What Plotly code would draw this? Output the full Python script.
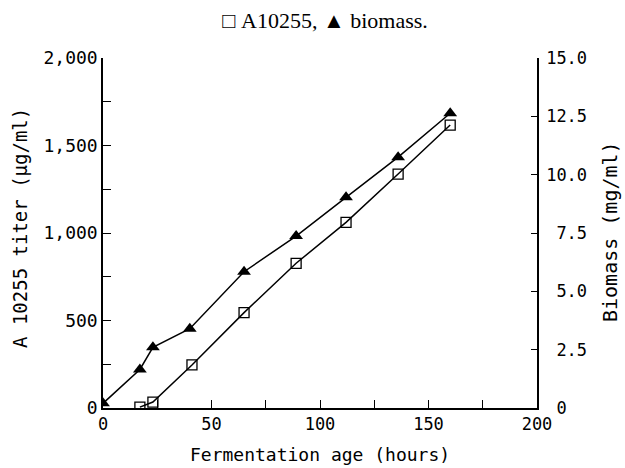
import plotly.graph_objects as go

# Data
hours_titer = [17, 23, 41, 65, 89, 112, 136, 160]
titer = [5, 34, 246, 545, 827, 1061, 1337, 1617]          # A10255 titer (µg/ml)

hours_biomass = [0, 17, 23, 40, 65, 89, 112, 136, 160]
biomass = [0.2, 1.65, 2.6, 3.4, 5.84, 7.37, 9.03, 10.75, 12.63]  # mg/ml

x_ticks = [0, 50, 100, 150, 200]
y1_ticks = [0, 500, 1000, 1500, 2000]
y1_text = ["0", "500", "1,000", "1,500", "2,000"]
y2_ticks = [0, 2.5, 5, 7.5, 10, 12.5, 15]
NB = "\u00a0"
y2_text = [NB + "0", NB + "2.5", NB + "5.0", NB + "7.5", "10.0", "12.5", "15.0"]

MONO = "DejaVu Sans Mono"
W, H = 625, 468
L, R, T, B = 103, 88, 58, 60
PW, PH = W - L - R, H - T - B


def px_x(x):
    return (x - L) / PW


def px_y(y):
    return (H - B - y) / PH


fig = go.Figure()
fig.add_trace(go.Scatter(
    x=hours_titer, y=titer, mode="lines+markers", name="A10255",
    line=dict(color="black", width=1.5),
    marker=dict(symbol="square-open", size=10, color="black", line=dict(width=1.3)),
    yaxis="y"))
fig.add_trace(go.Scatter(
    x=hours_biomass, y=biomass, mode="lines+markers", name="biomass",
    line=dict(color="black", width=1.5),
    marker=dict(symbol="triangle-up", size=12, color="black"),
    yaxis="y2"))

fig.update_layout(
    width=W, height=H,
    margin=dict(l=L, r=R, t=T, b=B),
    paper_bgcolor="white", plot_bgcolor="white",
    showlegend=False,
    title=dict(text="□" + NB + "A10255, ▲ biomass.", x=325 / W, xanchor="center",
               y=1 - 20 / H, yanchor="middle", yref="container",
               font=dict(family="Liberation Serif", size=22, color="black")),
    xaxis=dict(range=[0, 200], tickvals=x_ticks, ticks="inside", ticklen=8,
               tickcolor="black", showline=True, linecolor="black", linewidth=1.5,
               showgrid=False, zeroline=False, automargin=False,
               minor=dict(dtick=25, tick0=0, ticks="inside", ticklen=8, tickcolor="black"),
               tickfont=dict(family=MONO, size=17, color="black")),
    yaxis=dict(range=[0, 2000], tickvals=y1_ticks, ticktext=y1_text,
               ticks="inside", ticklen=8, tickcolor="black",
               showline=True, linecolor="black", linewidth=1.5,
               showgrid=False, zeroline=False, automargin=False,
               minor=dict(dtick=250, tick0=0, ticks="inside", ticklen=8, tickcolor="black"),
               tickfont=dict(family=MONO, size=18, color="black")),
    yaxis2=dict(range=[0, 15], tickvals=y2_ticks, ticktext=y2_text,
                overlaying="y", side="right", anchor="x",
                ticks="inside", ticklen=6, tickcolor="black",
                showline=True, linecolor="black", linewidth=1.5,
                showgrid=False, zeroline=False, automargin=False,
                ticklabelstandoff=4,
                tickfont=dict(family=MONO, size=17, color="black")),
    annotations=[
        dict(text="Fermentation age (hours)", xref="paper", yref="paper",
             x=px_x(320), y=px_y(454), xanchor="center", yanchor="middle",
             showarrow=False, font=dict(family=MONO, size=18, color="black")),
        dict(text="A 10255 titer (µg/ml)", xref="paper", yref="paper",
             x=px_x(20), y=px_y(228), xanchor="center", yanchor="middle",
             textangle=-90, showarrow=False,
             font=dict(family=MONO, size=19, color="black")),
        dict(text="Biomass (mg/ml)", xref="paper", yref="paper",
             x=px_x(610), y=px_y(232), xanchor="center", yanchor="middle",
             textangle=-90, showarrow=False,
             font=dict(family=MONO, size=20, color="black")),
    ],
)

fig.write_html("out.html")
